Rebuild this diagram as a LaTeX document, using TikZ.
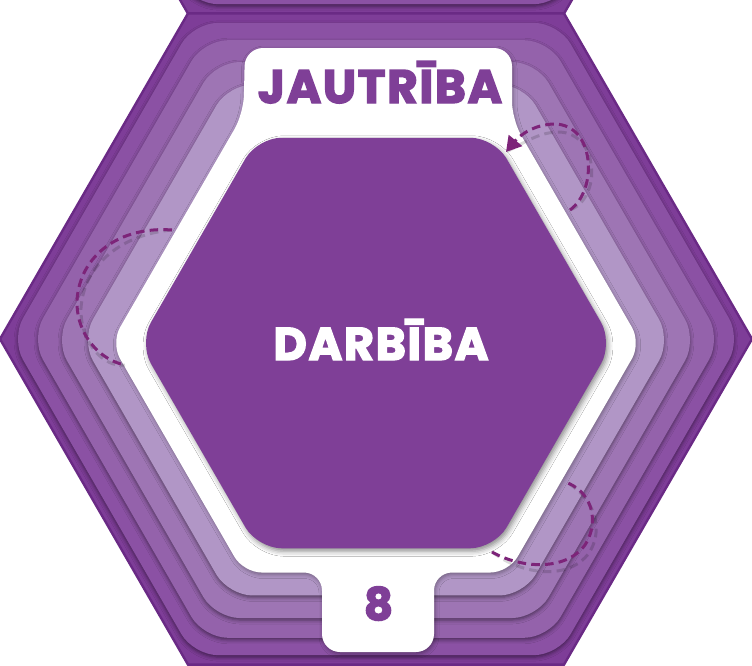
\documentclass[tikz,border=0pt]{standalone}
\usepackage{fontspec}
\setmainfont{Poppins}
\newfontfamily\heavyfont{Poppins Bold}[FakeBold=3, LetterSpace=3.5]
\usetikzlibrary{arrows.meta,shadows.blur}

\definecolor{hexborder}{HTML}{6A2A85}
\definecolor{hexouter}{HTML}{7E3D98}
\definecolor{layerA}{HTML}{8B51A4}
\definecolor{layerB}{HTML}{9462AB}
\definecolor{layerC}{HTML}{9E75B4}
\definecolor{layerD}{HTML}{B196C6}
\definecolor{darbcol}{HTML}{7F3F97}
\definecolor{arccol}{HTML}{7D2479}

% hexagone a plat, rayon #1, centre = origine du scope
\newcommand{\hexpath}[1]{(0:#1) -- (60:#1) -- (120:#1) -- (180:#1) -- (240:#1) -- (300:#1) -- cycle}

\tikzset{
  outerhex/.style={fill=hexouter, draw=hexborder, line width=1.2pt},
  layer/.style={fill=#1, rounded corners=12pt,
    blur shadow={shadow xshift=0pt, shadow yshift=-1pt, shadow blur radius=2pt, shadow opacity=50}},
  cardshape/.style={fill=white, rounded corners=9pt,
    blur shadow={shadow xshift=0.5pt, shadow yshift=-1pt, shadow blur radius=2pt, shadow opacity=35}},
  innerhex/.style={fill=darbcol, rounded corners=12pt,
    blur shadow={shadow xshift=1pt, shadow yshift=-1.5pt, shadow blur radius=2.5pt, shadow opacity=45}},
  bigtext/.style={font=\heavyfont\fontsize{#1}{#1}\selectfont, anchor=base, inner sep=0pt},
  dasharc/.style={draw=arccol, line width=1.5pt, dash pattern=on 4.3pt off 2.6pt},
  arcshadow/.style={draw=black, opacity=0.15, line width=1.5pt, dash pattern=on 4.3pt off 2.6pt},
}

\begin{document}
\begin{tikzpicture}[x=0.5pt, y=-0.5pt]
    \useasboundingbox (0,0) rectangle (752,666);
    \clip (0,0) rectangle (752,666);

    % tuile voisine (en haut)
    \begin{scope}[shift={(376,-312)}]
        \fill[outerhex] \hexpath{376};
        \fill[layer=layerA] \hexpath{365};
    \end{scope}

    % tuile principale : couches
    \begin{scope}[shift={(376,339)}]
        \fill[outerhex] \hexpath{376};
        \fill[layer=layerA] \hexpath{365};
        \fill[layer=layerB] \hexpath{345};
    \end{scope}
    \begin{scope}[shift={(376,340)}]
        \fill[layer=layerC] \hexpath{321};
        \fill[layer=layerD] \hexpath{295};
    \end{scope}

    % carte blanche avec onglets
    \fill[cardshape] (111,343) -- (243.5,113.5) -- (245,48) -- (512,48)
        -- (512,119.5) -- (641,343) -- (508.5,572.5) -- (434,572.5)
        -- (434,652) -- (322,652) -- (322,572.5) -- (243.5,572.5) -- cycle;

    % hexagone central
    \begin{scope}[shift={(376,343)}]
        \fill[innerhex] \hexpath{237};
    \end{scope}

    % textes
    \node[bigtext=23.5, text=darbcol] (title) at (380,103) {JAUTRĪBA};
    \node[bigtext=23, text=white] (darbiba) at (381,360) {DARBĪBA};
    \node[bigtext=22.5, text=darbcol] (num) at (378.5,620) {8};

    % arcs pointilles
    \coordinate (arcTs) at (570,210);
    \coordinate (arcTe) at (506,152);
    \coordinate (arcLs) at (172,230);
    \coordinate (arcLe) at (125,365);
    \coordinate (arcBs) at (492,552);
    \coordinate (arcBe) at (568,483);

    \begin{scope}[shift={(4,8)}]
        \draw[arcshadow] (arcTs) .. controls (598,190) and (595,125) .. (555,124)
            .. controls (535,124) and (520,135) .. (arcTe);
        \draw[arcshadow] (arcLs) .. controls (120,226) and (80,255) .. (77,300)
            .. controls (76,335) and (100,360) .. (arcLe);
        \draw[arcshadow] (arcBs) .. controls (520,568) and (565,572) .. (585,545)
            .. controls (598,525) and (595,495) .. (arcBe);
    \end{scope}

    \draw[dasharc, -{Triangle[length=7.5pt, width=8.5pt]}] (arcTs)
        .. controls (598,190) and (595,125) .. (555,124)
        .. controls (535,124) and (520,135) .. (arcTe);
    \draw[dasharc] (arcLs) .. controls (120,226) and (80,255) .. (77,300)
        .. controls (76,335) and (100,360) .. (arcLe);
    \draw[dasharc] (arcBs) .. controls (520,568) and (565,572) .. (585,545)
        .. controls (598,525) and (595,495) .. (arcBe);
\end{tikzpicture}
\end{document}
